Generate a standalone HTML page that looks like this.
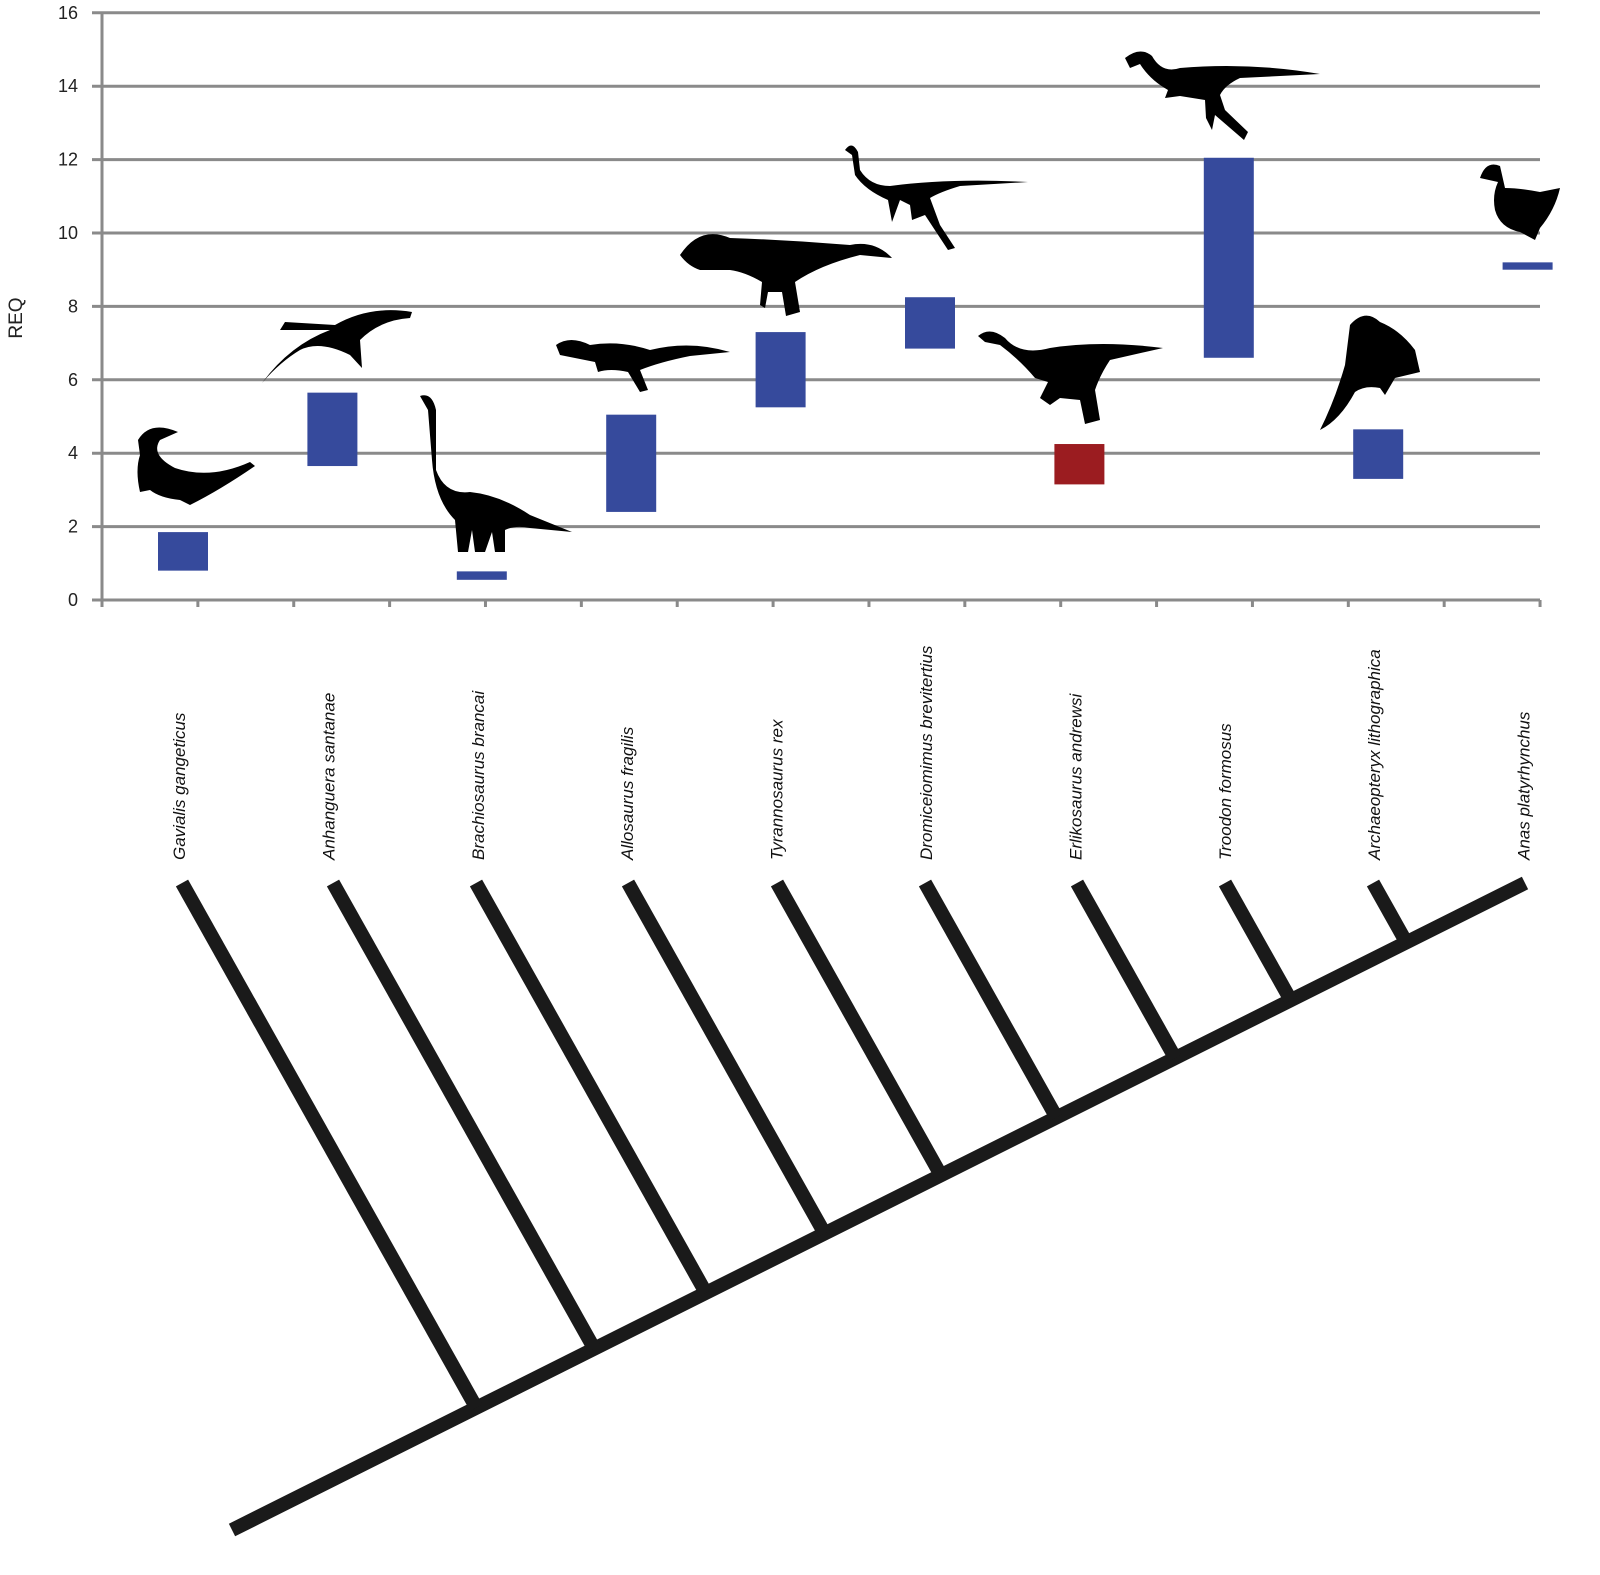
<!DOCTYPE html>
<html><head><meta charset="utf-8"><style>
html,body{margin:0;padding:0;background:#fff}
svg{display:block}
text{font-family:"Liberation Sans",sans-serif}
</style></head><body>
<svg id="c" width="1600" height="1575" viewBox="0 0 1600 1575">
<g id="grid"></g>
<g id="bars"></g>
<g id="sil" fill="#000">
 <g><path d="M138 440 Q150 420 178 432 L160 440 Q150 455 175 468 Q210 480 250 462 L255 466 Q220 490 190 505 L180 500 Q160 498 150 490 L140 492 Q135 470 140 455 Z"/></g>
 <g><path d="M262 383 Q290 345 330 330 L280 330 L285 322 L335 325 Q370 305 412 312 L410 318 Q380 320 360 340 L362 368 L350 355 Q320 340 300 350 Q280 362 262 383 Z"/></g>
 <g><path d="M420 396 Q432 392 436 410 L436 470 Q445 495 470 492 Q500 495 530 515 L572 532 L530 528 Q515 525 505 530 L505 552 L495 552 L492 532 L485 552 L475 552 L472 530 L468 552 L458 552 L455 520 Q435 500 432 460 L428 410 Z"/></g>
 <g><path d="M556 345 Q570 335 590 345 Q620 340 650 350 Q690 340 730 352 L690 356 Q660 362 640 370 L648 390 L640 392 L628 372 Q610 368 598 372 L595 362 Q575 358 560 355 Z"/></g>
 <g><path d="M680 255 Q700 225 730 238 Q790 240 850 245 Q875 240 892 258 L860 255 Q820 265 795 282 L800 312 L786 316 L782 292 L768 292 L765 308 L760 305 L762 282 Q745 272 730 270 L700 270 Q688 266 680 255 Z"/></g>
 <g><path d="M845 150 Q852 140 858 152 L860 170 Q870 186 890 186 Q950 178 1028 182 L960 186 Q940 192 930 198 L940 225 L955 248 L948 250 L925 215 L912 220 L910 205 L900 200 L892 222 L888 200 Q865 190 855 175 L852 155 Z"/></g>
 <g><path d="M978 336 Q990 326 1005 338 Q1020 356 1050 348 Q1100 340 1163 348 L1110 360 Q1100 375 1095 390 L1100 420 L1085 424 L1080 400 L1060 398 L1050 405 L1040 398 L1048 382 L1035 378 Q1020 360 1000 345 L985 342 Z"/></g>
 <g><path d="M1125 58 Q1140 46 1152 56 Q1162 74 1180 68 Q1250 62 1320 74 L1240 78 Q1225 85 1220 95 L1225 110 L1248 132 L1244 140 L1215 115 L1212 130 L1206 118 L1205 100 L1180 96 L1165 98 L1168 90 Q1150 80 1140 64 L1130 68 Z"/></g>
 <g><path d="M1350 325 Q1365 308 1380 322 Q1400 330 1415 350 L1420 372 L1395 378 L1385 395 L1380 388 Q1365 385 1355 392 Q1340 420 1320 430 Q1335 400 1345 365 Z"/></g>
 <g><path d="M1480 178 Q1486 160 1500 166 L1505 188 Q1520 188 1540 192 L1560 188 Q1555 210 1540 228 L1535 240 L1520 232 Q1500 228 1495 210 Q1492 195 1498 182 Z"/></g>
</g>
<g id="tree" stroke="#1a1a1a" stroke-width="14" fill="none"></g>
<text x="22" y="318" transform="rotate(-90 22 318)" text-anchor="middle" font-size="19" fill="#222">REQ</text>
</svg>
<script>
const categories=["Gavialis gangeticus","Anhanguera santanae","Brachiosaurus brancai","Allosaurus fragilis","Tyrannosaurus rex","Dromiceiomimus brevitertius","Erlikosaurus andrewsi","Troodon formosus","Archaeopteryx lithographica","Anas platyrhynchus"];
const lowValues=[0.8,3.65,0.55,2.4,5.25,6.85,3.15,6.6,3.3,9.0];
const highValues=[1.85,5.65,0.78,5.05,7.3,8.25,4.25,12.05,4.65,9.2];
const barColors=["#364a9c","#364a9c","#364a9c","#364a9c","#364a9c","#364a9c","#9b1c20","#364a9c","#364a9c","#364a9c"];
const yTicks=[0,2,4,6,8,10,12,14,16];
const NS="http://www.w3.org/2000/svg";
const y=v=>600-v*36.7;
const xc=i=>183+i*149.4;
function mk(tag,attrs,parent){const e=document.createElementNS(NS,tag);for(const k in attrs)e.setAttribute(k,attrs[k]);parent.appendChild(e);return e;}
const grid=document.getElementById('grid');
yTicks.forEach(t=>{
 const l=mk('line',{x1:92,x2:1540,y1:y(t),y2:y(t),stroke:'#8a8a8a','stroke-width':3},grid);
 
 
 const tx=mk('text',{x:78,y:y(t)+6,'text-anchor':'end','font-size':18,fill:'#222'},grid);
 tx.textContent=t;
 
 
});
mk('line',{x1:102,x2:102,y1:12,y2:607,stroke:'#8a8a8a','stroke-width':3},grid);
for(let k=0;k<16;k++){const xx=102+k*95.87;mk('line',{x1:xx,x2:xx,y1:600,y2:607,stroke:'#8a8a8a','stroke-width':3},grid);}
const bars=document.getElementById('bars');
categories.forEach((c,i)=>{
 const r=mk('rect',{x:xc(i)-25,y:y(highValues[i]),width:50,height:y(lowValues[i])-y(highValues[i]),fill:barColors[i]},bars);
 
 
 const lx=xc(i)+2;
 const t=mk('text',{x:lx,y:860,transform:`rotate(-90 ${lx} 860)`,'font-size':17,'font-style':'italic',fill:'#111'},bars);
 t.textContent=c;
 
 
});
const tree=document.getElementById('tree');
const A=[232,1530],B=[1525,883];
mk('line',{x1:A[0],y1:A[1],x2:B[0],y2:B[1]},tree);
const tops=[182,333,476,628,777,925,1077,1225,1373];
const slope=(B[1]-A[1])/(B[0]-A[0]);
tops.forEach(tx=>{
 const k=517/290;
 const x=(A[1]-slope*A[0]-883+k*tx)/(k-slope);
 const yy=883+k*(x-tx);
 const l=mk('line',{x1:tx,y1:883,x2:x,y2:yy},tree);
 
 
});
</script>
</body></html>
